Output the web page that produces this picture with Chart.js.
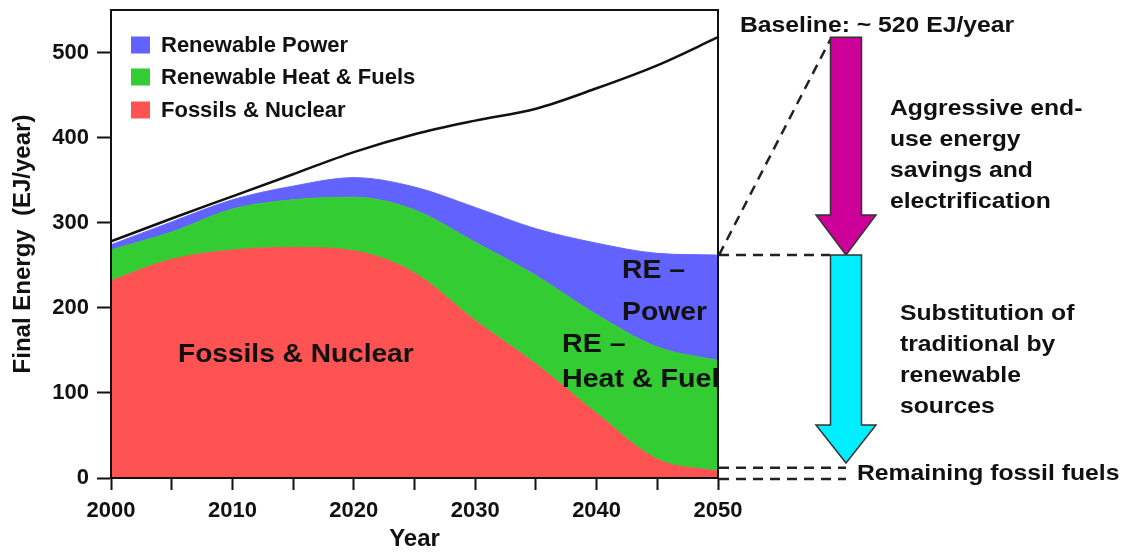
<!DOCTYPE html>
<html><head><meta charset="utf-8">
<script src="https://cdn.jsdelivr.net/npm/chart.js@4.4.1/dist/chart.umd.min.js"></script>
<style>html,body{margin:0;padding:0;background:#fff}#wrap{position:relative;width:1137px;height:555px}</style>
</head><body><div id="wrap"><canvas id="c"></canvas></div>
<script>
const years = [2000,2005,2010,2015,2020,2025,2030,2035,2040,2045,2050];
const fossilNuclear  = [232,257,268,271,267,241,185,134,76,22,8];
const reHeatFuels    = [36,32,48,56,63,74,92,104,116,132,130];
const rePower        = [6,12,11,16,23,27,41,55,84,110,124];
const baselineDemand = [278,305,331,357,383,404,420,434,458,485,518];
const yTickValues = [0,100,200,300,400,500];
const xTickLabels = [2000,2010,2020,2030,2040,2050];
const seriesNames  = ['Fossils & Nuclear','Renewable Heat & Fuels','Renewable Power'];
const seriesColors = ['#ff5252','#33cc33','#6262ff'];

const FONT = '"Liberation Sans", Arial, Helvetica, sans-serif';
Chart.defaults.font.family = FONT;
Chart.defaults.color = '#111';

const pts = arr => years.map((x,i)=>({x, y: arr[i]}));

function txt(ctx, s, x, y, size, sx) {
  ctx.save();
  ctx.font = 'bold ' + size + 'px ' + FONT;
  ctx.textBaseline = 'middle';
  ctx.textAlign = 'left';
  ctx.fillStyle = '#111';
  ctx.translate(x, y); ctx.scale(sx || 1, 1);
  ctx.fillText(s, 0, 0);
  ctx.restore();
}
function arrow(ctx, cx, yTop, yHeadBase, yTip, sh, hh, fill) {
  ctx.save();
  ctx.beginPath();
  ctx.moveTo(cx-sh, yTop); ctx.lineTo(cx+sh, yTop); ctx.lineTo(cx+sh, yHeadBase);
  ctx.lineTo(cx+hh, yHeadBase); ctx.lineTo(cx, yTip); ctx.lineTo(cx-hh, yHeadBase);
  ctx.lineTo(cx-sh, yHeadBase); ctx.closePath();
  ctx.fillStyle = fill; ctx.fill();
  ctx.strokeStyle = '#333'; ctx.lineWidth = 1.5; ctx.stroke();
  ctx.restore();
}
function dashed(ctx, x1, y1, x2, y2) {
  ctx.save();
  ctx.setLineDash([10,7]); ctx.lineWidth = 2.5; ctx.strokeStyle = '#222';
  ctx.beginPath(); ctx.moveTo(x1,y1); ctx.lineTo(x2,y2); ctx.stroke();
  ctx.restore();
}

const decor = {
  id: 'decor',
  afterDraw(chart) {
    const {ctx, chartArea: a, scales} = chart;
    const ys = scales.y;
    // frame
    ctx.save(); ctx.strokeStyle = '#111'; ctx.lineWidth = 2;
    ctx.strokeRect(a.left, a.top, a.right - a.left, a.bottom - a.top); ctx.restore();
    // legend (reverse order)
    const rows = [[2,45],[1,77],[0,110]];
    ctx.save();
    rows.forEach(([i, yc]) => {
      ctx.fillStyle = seriesColors[i];
      ctx.fillRect(131, yc - 8.5, 19, 17);
      txt(ctx, seriesNames[i], 161, yc + 1, 22, 1);
    });
    ctx.restore();
    // in-plot labels, clipped
    ctx.save();
    ctx.beginPath(); ctx.rect(a.left, a.top, a.right - a.left - 1, a.bottom - a.top); ctx.clip();
    txt(ctx, 'Fossils & Nuclear', 178, 355, 26, 1.08);
    txt(ctx, 'RE \u2013', 562, 345, 26, 1.1);
    txt(ctx, 'Heat & Fuel', 562, 380, 26, 1.1);
    txt(ctx, 'RE \u2013', 622, 271, 26, 1.09);
    txt(ctx, 'Power', 622, 313, 26, 1.09);
    ctx.restore();
    // right-side annotations
    const last = years.length - 1;
    const total = fossilNuclear[last] + reHeatFuels[last] + rePower[last];
    const yBase = ys.getPixelForValue(baselineDemand[last]);
    const yTot = ys.getPixelForValue(total);
    const yFos = ys.getPixelForValue(fossilNuclear[last] + 4);
    const yZero = ys.getPixelForValue(0) + 1;
    dashed(ctx, a.right + 1, yTot, 831, yBase + 1);
    dashed(ctx, a.right + 1, yTot, 830, yTot);
    dashed(ctx, a.right + 1, yFos, 846, yFos);
    dashed(ctx, a.right + 1, yZero, 846, yZero);
    arrow(ctx, 846, yBase, 215, yTot, 15.5, 30, '#cc0099');
    arrow(ctx, 846, yTot, 425, 463, 15.5, 30, '#00eeff');
    const S = 21.5, SX = 1.15;
    txt(ctx, 'Baseline: ~ 520 EJ/year', 740, 26, S, SX);
    ['Aggressive end-','use energy','savings and','electrification']
      .forEach((t,i) => txt(ctx, t, 890, 109 + i*31, S, SX));
    ['Substitution of','traditional by','renewable','sources']
      .forEach((t,i) => txt(ctx, t, 900, 314 + i*31, S, SX));
    txt(ctx, 'Remaining fossil fuels', 857, 474, S, SX);
  }
};

const areaDs = (i, data, fill) => ({
  label: seriesNames[i], data: pts(data), fill,
  backgroundColor: seriesColors[i], borderColor: seriesColors[i], borderWidth: 1,
  pointRadius: 0, cubicInterpolationMode: 'monotone', yAxisID: 'y'
});

new Chart(document.getElementById('c'), {
  type: 'line',
  data: {
    datasets: [
      areaDs(0, fossilNuclear, 'origin'),
      areaDs(1, reHeatFuels, '-1'),
      areaDs(2, rePower, '-1'),
      { label: 'Baseline', data: pts(baselineDemand), fill: false, borderColor: '#111',
        borderWidth: 2.5, pointRadius: 0, cubicInterpolationMode: 'monotone', yAxisID: 'y2' }
    ]
  },
  options: {
    responsive: true, maintainAspectRatio: false, animation: false,
    layout: { padding: { left: 0, top: 10, right: 419, bottom: 0 } },
    plugins: { legend: { display: false }, tooltip: { enabled: false } },
    scales: {
      x: {
        type: 'linear', min: 2000, max: 2050,
        afterBuildTicks: s => { s.ticks = years.map(v => ({value: v})); },
        ticks: { autoSkip: false, maxRotation: 0, padding: 8, color: '#111',
          font: { size: 22, weight: 'bold' },
          callback: v => xTickLabels.includes(v) ? String(v) : '' },
        grid: { display: true, drawOnChartArea: false, drawTicks: true, tickLength: 12, tickWidth: 2, tickColor: '#111' },
        border: { display: true, color: '#111', width: 2 },
        title: { display: true, text: 'Year', color: '#111', font: { size: 24, weight: 'bold' }, padding: { top: 0, bottom: 1 } },
        afterFit: s => { s.height = 77; s.paddingLeft = 0; s.paddingRight = 0; }
      },
      y: {
        type: 'linear', stacked: true, min: 0, max: 550,
        afterBuildTicks: s => { s.ticks = yTickValues.map(v => ({value: v})); },
        ticks: { padding: 8, color: '#111', font: { size: 22, weight: 'bold' } },
        grid: { display: true, drawOnChartArea: false, drawTicks: true, tickLength: 14, tickWidth: 2, tickColor: '#111' },
        border: { display: true, color: '#111', width: 2 },
        title: { display: true, text: 'Final Energy  (EJ/year)', color: '#111', font: { size: 24, weight: 'bold' }, padding: { top: 9, bottom: 0 } },
        afterFit: s => { s.width = 111; s.paddingTop = 0; s.paddingBottom = 0; }
      },
      y2: { type: 'linear', display: false, min: 0, max: 550, stacked: false }
    }
  },
  plugins: [decor]
});
</script></body></html>
